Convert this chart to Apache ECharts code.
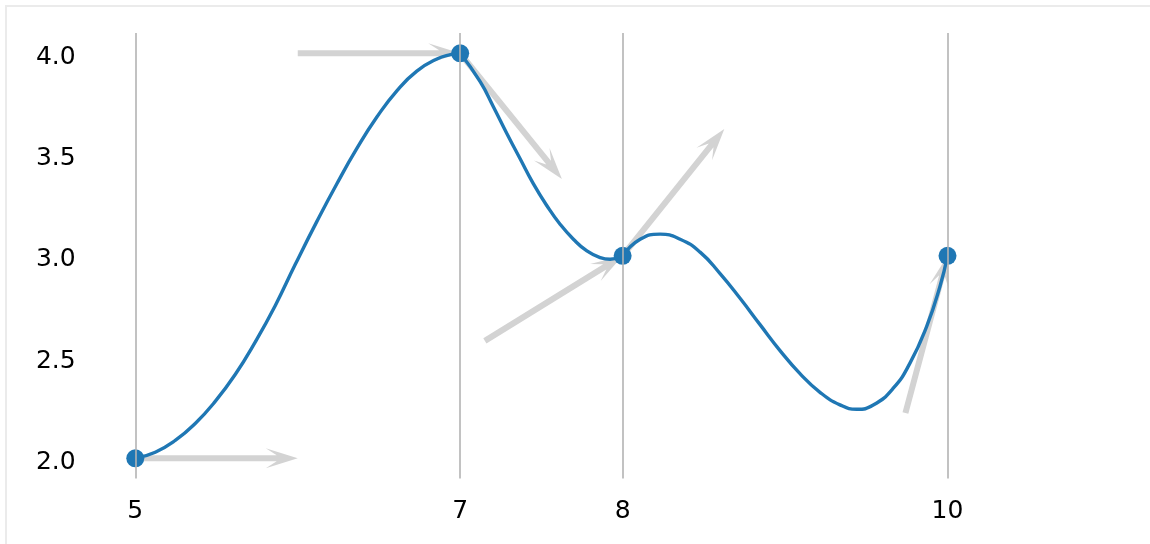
<!DOCTYPE html>
<html>
<head>
<meta charset="utf-8">
<script src="https://cdn.jsdelivr.net/npm/echarts@6/dist/echarts.min.js"></script>
<style>
html,body{margin:0;padding:0;background:#fff;}
#c{width:1150px;height:544px;}
</style>
</head>
<body>
<div id="c"></div>
<script>
// Knot points
const pointX = [5, 7, 8, 10];
const pointY = [2, 4, 3, 3];
// Tick labels
const xTicks = [5, 7, 8, 10];
const yTicks = [2.0, 2.5, 3.0, 3.5, 4.0];
// Curve samples
const curveX = [5.000, 5.123, 5.246, 5.369, 5.492, 5.615, 5.738, 5.862, 5.985, 6.118, 6.241, 6.364, 6.487, 6.610, 6.733, 6.857, 6.940, 7.000,
                7.123, 7.205, 7.288, 7.369, 7.451, 7.534, 7.615, 7.697, 7.780, 7.862, 7.923, 8.000,
                8.108, 8.231, 8.354, 8.477, 8.600, 8.723, 8.846, 8.969, 9.092, 9.215, 9.338, 9.441, 9.543, 9.666, 9.769, 9.872, 9.954, 10.000];
const curveY = [2.000, 2.030, 2.088, 2.172, 2.281, 2.414, 2.574, 2.755, 2.958, 3.170, 3.356, 3.530, 3.685, 3.815, 3.912, 3.972, 3.993, 4.000,
                3.860, 3.735, 3.603, 3.479, 3.355, 3.247, 3.156, 3.082, 3.024, 2.991, 2.983, 3.000,
                3.082, 3.107, 3.082, 3.018, 2.912, 2.790, 2.660, 2.532, 2.418, 2.326, 2.264, 2.242, 2.263, 2.346, 2.470, 2.652, 2.850, 3.000];
// Tangent arrows: start and end points
const arrowStartX = [5, 6, 7, 7.152, 8, 9.741];
const arrowStartY = [2, 4, 4, 2.580, 3, 2.224];
const arrowEndX = [6, 7, 7.626, 8, 8.626, 10];
const arrowEndY = [2, 4, 3.379, 3, 3.626, 3];

const segments = [];
for (let k = 0; k < pointX.length - 1; k++) {
  const seg = [];
  for (let i = 0; i < curveX.length; i++) {
    if (curveX[i] >= pointX[k] && curveX[i] <= pointX[k + 1]) seg.push([curveX[i], curveY[i]]);
  }
  segments.push(seg);
}
const arrowData = arrowStartX.map((x, i) => [x, arrowStartY[i], arrowEndX[i], arrowEndY[i]]);

const BLUE = '#1f77b4';
const GREY = '#d3d3d3';

const chart = echarts.init(document.getElementById('c'), null, {renderer: 'canvas'});

const curveSeries = segments.map(seg => ({
  type: 'line',
  data: seg,
  smooth: 0.5,
  showSymbol: false,
  symbol: 'none',
  lineStyle: {color: BLUE, width: 3.4},
  z: 3,
  silent: true
}));

const labelStyle = {fontFamily: 'DejaVu Sans', fontSize: 25, color: '#000'};

chart.setOption({
  animation: false,
  backgroundColor: '#fff',
  graphic: [{
    type: 'rect', silent: true, z: -10,
    shape: {x: 6, y: 6, width: 1300, height: 700},
    style: {fill: 'none', stroke: '#ebebeb', lineWidth: 2}
  }],
  grid: {left: 94.7, right: 161.9, top: 33.05, bottom: 65.45, containLabel: false},
  xAxis: {
    type: 'value', min: 4.75, max: 10.25,
    axisLine: {show: false}, axisTick: {show: false}, splitLine: {show: false},
    axisLabel: Object.assign({customValues: xTicks, margin: 20, formatter: v => String(v)}, labelStyle)
  },
  yAxis: {
    type: 'value', min: 1.9, max: 4.1,
    axisLine: {show: false}, axisTick: {show: false}, splitLine: {show: false},
    axisLabel: Object.assign({
      customValues: yTicks, margin: 19, verticalAlign: 'top', lineHeight: 8,
      formatter: v => v.toFixed(1)
    }, labelStyle)
  },
  series: [
    {
      type: 'line', data: [], z: 1, silent: true,
      markLine: {
        silent: true, symbol: ['none', 'none'], label: {show: false},
        lineStyle: {color: '#b3b3b3', width: 1.6, type: 'solid'},
        data: xTicks.map(v => ({xAxis: v}))
      }
    },
    {
      type: 'custom', z: 2, silent: true,
      data: arrowData,
      encode: {x: [0, 2], y: [1, 3]},
      renderItem: function (params, api) {
        const p0 = api.coord([api.value(0), api.value(1)]);
        const p1 = api.coord([api.value(2), api.value(3)]);
        const dx = p1[0] - p0[0], dy = p1[1] - p0[1];
        const len = Math.sqrt(dx * dx + dy * dy);
        const ux = dx / len, uy = dy / len, nx = -uy, ny = ux;
        const headLen = 32, halfW = 10, notch = 21, shaftW = 3;
        const bx = p1[0] - ux * headLen, by = p1[1] - uy * headLen;
        const qx = p1[0] - ux * notch, qy = p1[1] - uy * notch;
        return {
          type: 'polygon',
          shape: {points: [
            [p0[0] + nx * shaftW, p0[1] + ny * shaftW],
            [qx + nx * shaftW, qy + ny * shaftW],
            [bx + nx * halfW, by + ny * halfW],
            [p1[0], p1[1]],
            [bx - nx * halfW, by - ny * halfW],
            [qx - nx * shaftW, qy - ny * shaftW],
            [p0[0] - nx * shaftW, p0[1] - ny * shaftW]
          ]},
          style: {fill: GREY, stroke: 'none'}
        };
      }
    },
    ...curveSeries,
    {
      type: 'scatter', z: 4, silent: true,
      data: pointX.map((x, i) => [x, pointY[i]]),
      symbol: 'circle', symbolSize: 18,
      itemStyle: {color: BLUE, opacity: 1}
    }
  ]
});
</script>
</body>
</html>
